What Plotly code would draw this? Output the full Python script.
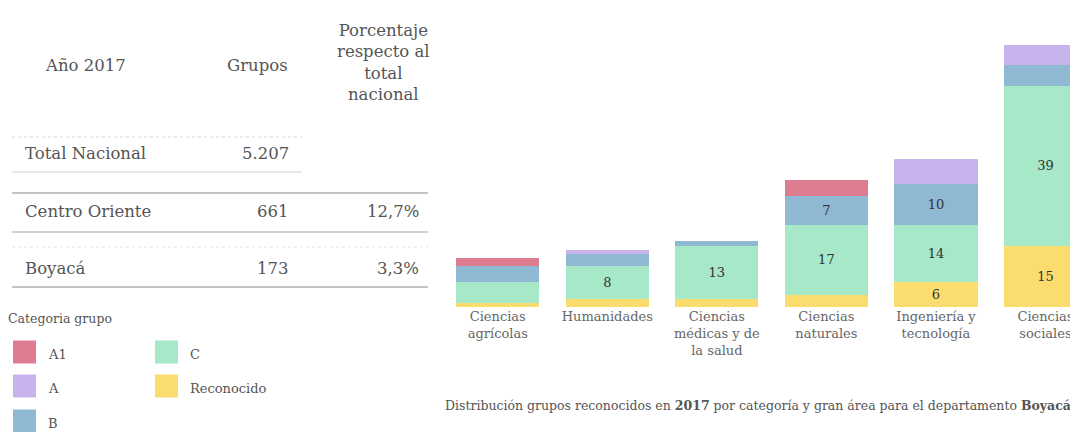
import plotly.graph_objects as go

# la pagina tiene 8px de margen en el body, la figura se corre 8px
OFF = 8
W, H = 1078 - OFF, 432 - OFF
M_T, M_B = 12, 125

# datos de la tabla
filas = ["Total Nacional", "Centro Oriente", "Boyacá"]
grupos = ["5.207", "661", "173"]
porcentajes = ["", "12,7%", "3,3%"]

# grupos por gran area y categoria (Boyaca 2017)
areas = ["Ciencias<br>agrícolas", "Humanidades", "Ciencias<br>médicas y de<br>la salud",
         "Ciencias<br>naturales", "Ingeniería y<br>tecnología", "Ciencias<br>sociales"]
reconocido = [1, 2, 2, 3, 6, 15]
cat_c = [5, 8, 13, 17, 14, 39]
cat_b = [4, 3, 1, 7, 10, 5]
cat_a = [0, 1, 0, 0, 6, 5]
cat_a1 = [2, 0, 0, 4, 0, 0]

colores = {"A1": "#dd7d8f", "A": "#c8b2ec", "B": "#8fb8d3", "C": "#a7e8c9", "Reconocido": "#fbdc6f"}

serif = "DejaVu Serif"
gris = "#555555"


def py(px):
    # pixel de pantalla (desde arriba) -> coordenada paper
    return (H - M_B - (px - OFF)) / (H - M_T - M_B)


def px_x(px):
    return (px - OFF) / W


def texto(x, y, txt, size, anchor="center", color=gris):
    fig.add_annotation(x=px_x(x), y=py(y), text=txt, showarrow=False,
                       xanchor=anchor, yanchor="middle", align="center",
                       xref="paper", yref="paper", font=dict(size=size, color=color))


fig = go.Figure()

series = [("Reconocido", reconocido, True), ("C", cat_c, True), ("B", cat_b, True),
          ("A", cat_a, False), ("A1", cat_a1, False)]
for nombre, vals, etiqueta in series:
    txt = [str(v) if (etiqueta and v >= 6) else "" for v in vals]
    fig.add_trace(go.Bar(
        x=areas, y=vals, name=nombre,
        marker=dict(color=colores[nombre], line=dict(width=0)),
        text=txt, textposition="inside", insidetextanchor="middle",
        textangle=0, textfont=dict(family=serif, size=13, color="#333333"),
        showlegend=False, hoverinfo="x+y+name",
    ))

fig.update_layout(
    template="none",
    width=W, height=H,
    margin=dict(l=0, r=0, t=M_T, b=M_B),
    barmode="stack", bargap=0.24,
    paper_bgcolor="white", plot_bgcolor="white",
    font=dict(family=serif, color=gris),
    xaxis=dict(domain=[(443 - OFF) / W, 1], range=[-0.5, 5.297], showgrid=False, showline=False,
               zeroline=False, ticks="", tickfont=dict(family=serif, size=13, color="#666666")),
    yaxis=dict(range=[0, 70], visible=False),
)

ft = 16.5
# tabla: encabezados
texto(85, 65, "Año 2017", ft)
texto(257, 65, "Grupos", ft)
texto(383, 62, "Porcentaje<br>respecto al<br>total<br>nacional", ft)

fila_y = [153, 211, 268]
for fila, g, p, yy in zip(filas, grupos, porcentajes, fila_y):
    texto(23, yy, fila, ft, "left")
    texto(291, yy, g, ft, "right")
    if p:
        texto(421, yy, p, ft, "right")

lineas = [(137, 302, "#d6d6d6", 1, "dot"), (172, 302, "#cfcfcf", 1, "solid"),
          (193, 428, "#c4c4c4", 2, "solid"), (232, 428, "#d0d0d0", 2, "solid"),
          (247, 428, "#e4e4e4", 1, "dot"), (287, 428, "#c4c4c4", 2, "solid")]
for yy, x1, col, w, dash in lineas:
    fig.add_shape(type="line", xref="paper", yref="paper", x0=px_x(12), x1=px_x(x1),
                  y0=py(yy), y1=py(yy), line=dict(color=col, width=w, dash=dash))

# leyenda manual
texto(6, 318, "Categoria grupo", 12.5, "left")
leyenda = [("A1", 13, 352), ("A", 13, 386), ("B", 13, 421), ("C", 155, 352), ("Reconocido", 155, 386)]
for nombre, lx, ly in leyenda:
    fig.add_shape(type="rect", xref="paper", yref="paper", x0=px_x(lx), x1=px_x(lx + 23),
                  y0=py(ly - 11.5), y1=py(ly + 11.5), fillcolor=colores[nombre], line=dict(width=0))
    texto(lx + 33, ly + 2, nombre, 13, "left")

# pie del grafico
texto(443, 405, "Distribución grupos reconocidos en <b>2017</b> por categoría y gran área "
                "para el departamento <b>Boyacá</b>", 12.5, "left")

fig.write_html("out.html")
